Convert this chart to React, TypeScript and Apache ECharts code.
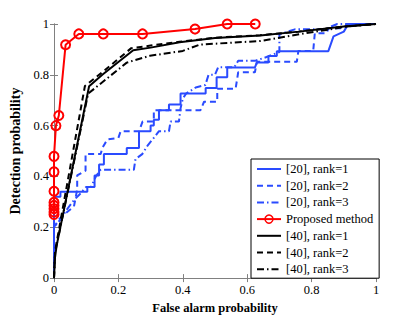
import React, { useEffect, useRef } from "react";
import * as echarts from "echarts";

const seriesNames = [
  "[20], rank=1",
  "[20], rank=2",
  "[20], rank=3",
  "Proposed method",
  "[40], rank=1",
  "[40], rank=2",
  "[40], rank=3",
];

const ref20rank1: number[][] = [
  [0, 0], [0, 0.32], [0.02, 0.32], [0.02, 0.34], [0.1035, 0.34], [0.1035, 0.359],
  [0.126, 0.359], [0.126, 0.404], [0.14, 0.404], [0.14, 0.447], [0.155, 0.447],
  [0.155, 0.488], [0.226, 0.488], [0.226, 0.512], [0.264, 0.512], [0.264, 0.578],
  [0.3, 0.578], [0.3, 0.601], [0.31, 0.601], [0.31, 0.623], [0.326, 0.623],
  [0.326, 0.661], [0.357, 0.661], [0.357, 0.683], [0.393, 0.683], [0.393, 0.726],
  [0.471, 0.726], [0.471, 0.748], [0.505, 0.748], [0.505, 0.79], [0.538, 0.79],
  [0.538, 0.829], [0.624, 0.829], [0.63, 0.848], [0.666, 0.848], [0.666, 0.874],
  [0.692, 0.874], [0.692, 0.893], [0.852, 0.893], [0.868, 0.951], [0.9, 0.97],
  [0.914, 1], [1, 1],
];

const ref20rank2: number[][] = [
  [0, 0], [0, 0.2], [0.015, 0.23], [0.031, 0.25], [0.062, 0.282], [0.072, 0.349],
  [0.072, 0.404], [0.098, 0.423], [0.098, 0.488], [0.145, 0.488], [0.15, 0.512],
  [0.166, 0.546], [0.2, 0.552], [0.207, 0.578], [0.264, 0.578], [0.275, 0.616],
  [0.31, 0.616], [0.31, 0.661], [0.455, 0.661], [0.466, 0.694], [0.507, 0.694],
  [0.507, 0.745], [0.564, 0.745], [0.572, 0.81], [0.624, 0.81], [0.63, 0.851],
  [0.754, 0.851], [0.759, 0.894], [0.805, 0.894], [0.81, 0.964], [0.847, 0.964],
  [0.852, 0.983], [0.9, 0.983], [0.909, 1], [1, 1],
];

const ref20rank3: number[][] = [
  [0, 0], [0, 0.2], [0.021, 0.232], [0.04, 0.27], [0.062, 0.307], [0.08, 0.33],
  [0.1, 0.359], [0.115, 0.359], [0.13, 0.4], [0.145, 0.426], [0.248, 0.426],
  [0.253, 0.468], [0.274, 0.488], [0.29, 0.52], [0.31, 0.552], [0.326, 0.578],
  [0.357, 0.578], [0.362, 0.616], [0.388, 0.616], [0.393, 0.668], [0.4, 0.706],
  [0.41, 0.726], [0.44, 0.75], [0.47, 0.76], [0.48, 0.8], [0.5, 0.8], [0.51, 0.83],
  [0.56, 0.83], [0.572, 0.855], [0.624, 0.855], [0.66, 0.87], [0.7, 0.89],
  [0.7, 0.96], [0.748, 0.979], [0.847, 0.979], [0.86, 0.99], [0.88, 1], [1, 1],
];

const proposed: number[][] = [
  [0, 0.25], [0, 0.26], [0, 0.273], [0, 0.286], [0, 0.298], [0, 0.342], [0, 0.418],
  [0, 0.479], [0.006, 0.6], [0.015, 0.64], [0.036, 0.918], [0.077, 0.961],
  [0.153, 0.961], [0.275, 0.961], [0.438, 0.98], [0.538, 1], [0.625, 1],
];

const ref40rank1: number[][] = [
  [0, 0], [0.003, 0.08], [0.008, 0.127], [0.109, 0.755], [0.15, 0.8], [0.246, 0.897],
  [0.3, 0.907], [0.39, 0.928], [0.5, 0.945], [0.64, 0.955], [0.76, 0.97],
  [0.9, 0.99], [1, 1],
];

const ref40rank2: number[][] = [
  [0, 0], [0.003, 0.1], [0.008, 0.14], [0.096, 0.756], [0.15, 0.81], [0.24, 0.905],
  [0.3, 0.915], [0.39, 0.93], [0.5, 0.946], [0.64, 0.956], [0.76, 0.97],
  [0.9, 0.99], [1, 1],
];

const ref40rank3: number[][] = [
  [0, 0], [0.003, 0.1], [0.01, 0.14], [0.106, 0.726], [0.226, 0.848], [0.298, 0.875],
  [0.4, 0.894], [0.453, 0.919], [0.64, 0.933], [0.764, 0.96], [0.91, 0.99], [1, 1],
];

const xTicks = [0, 0.2, 0.4, 0.6, 0.8, 1];

const BLUE = "#2a4bff";
const RED = "#ff0000";
const BLACK = "#000000";
const AXIS_GRAY = "#808080";
const FONT = "'Liberation Serif', 'DejaVu Serif', serif";

export default function App() {
  const ref = useRef<HTMLDivElement>(null);

  useEffect(() => {
    if (!ref.current) return;
    const chart = echarts.init(ref.current, undefined, { renderer: "svg" });

    const dashed = [6, 4];
    const dashDot = [7, 3, 1.5, 3];

    const lineSeries = (
      name: string,
      data: number[][],
      color: string,
      type: any
    ) => ({
      name,
      type: "line",
      data,
      symbol: "none",
      clip: false,
      lineStyle: { color, width: 2, type },
      itemStyle: { color },
      z: 2,
    });

    const legendItem = (name: string, color: string, type: any) => ({
      name,
      itemStyle: { opacity: 0 },
      lineStyle: { color, width: 2, type },
    });

    const axisCommon = {
      type: "value" as const,
      min: 0,
      max: 1,
      interval: 0.2,
      splitLine: { show: false },
      axisLine: { show: true, lineStyle: { color: AXIS_GRAY, width: 1 } },
      axisTick: { show: true, inside: true, length: 4, lineStyle: { color: AXIS_GRAY } },
    };

    chart.setOption({
      animation: false,
      backgroundColor: "#ffffff",
      textStyle: { fontFamily: FONT },
      grid: { left: 54, top: 24, width: 322, height: 259, containLabel: false },
      xAxis: [
        {
          ...axisCommon,
          position: "bottom",
          name: "False alarm probability",
          nameLocation: "middle",
          nameGap: 18,
          nameTextStyle: { fontFamily: FONT, fontWeight: "bold", fontSize: 12.5, color: "#000" },
          axisLabel: {
            fontFamily: FONT,
            fontSize: 12.5,
            color: "#000",
            margin: 5,
            formatter: (v: number) => (xTicks.includes(v) ? String(v) : ""),
          },
        },
        {
          ...axisCommon,
          position: "top",
          axisLabel: { show: false },
        },
      ],
      yAxis: [
        {
          ...axisCommon,
          position: "left",
          name: "Detection probability",
          nameLocation: "middle",
          nameGap: 21,
          nameRotate: 90,
          nameTextStyle: { fontFamily: FONT, fontWeight: "bold", fontSize: 14, color: "#000" },
          axisLabel: { fontFamily: FONT, fontSize: 12.5, color: "#000", margin: 5 },
        },
        {
          ...axisCommon,
          position: "right",
          axisLabel: { show: false },
        },
      ],
      legend: {
        data: [
          legendItem(seriesNames[0], BLUE, "solid"),
          legendItem(seriesNames[1], BLUE, dashed),
          legendItem(seriesNames[2], BLUE, dashDot),
          {
            name: seriesNames[3],
            itemStyle: { color: "rgba(255,255,255,0)", borderColor: RED, borderWidth: 1.5 },
            lineStyle: { color: RED, width: 2 },
          },
          legendItem(seriesNames[4], BLACK, "solid"),
          legendItem(seriesNames[5], BLACK, dashed),
          legendItem(seriesNames[6], BLACK, dashDot),
        ],
        orient: "vertical",
        left: 251,
        top: 159,
        width: 121,
        padding: [3, 6, 2, 5],
        itemWidth: 24,
        itemHeight: 10,
        itemGap: 2.7,
        backgroundColor: "#ffffff",
        borderColor: "#000000",
        borderWidth: 1,
        textStyle: { fontFamily: FONT, fontSize: 12.5, color: "#000", lineHeight: 14 },
      },
      series: [
        lineSeries(seriesNames[0], ref20rank1, BLUE, "solid"),
        lineSeries(seriesNames[1], ref20rank2, BLUE, dashed),
        lineSeries(seriesNames[2], ref20rank3, BLUE, dashDot),
        {
          name: seriesNames[3],
          type: "line",
          data: proposed,
          clip: false,
          symbol: "circle",
          symbolSize: 9,
          lineStyle: { color: RED, width: 2 },
          itemStyle: { color: "rgba(255,255,255,0)", borderColor: RED, borderWidth: 2 },
          z: 3,
        },
        lineSeries(seriesNames[4], ref40rank1, BLACK, "solid"),
        lineSeries(seriesNames[5], ref40rank2, BLACK, dashed),
        lineSeries(seriesNames[6], ref40rank3, BLACK, dashDot),
      ],
    });

    return () => chart.dispose();
  }, []);

  return <div ref={ref} style={{ width: 415, height: 319, position: "absolute", left: 0, top: 0 }} />;
}
